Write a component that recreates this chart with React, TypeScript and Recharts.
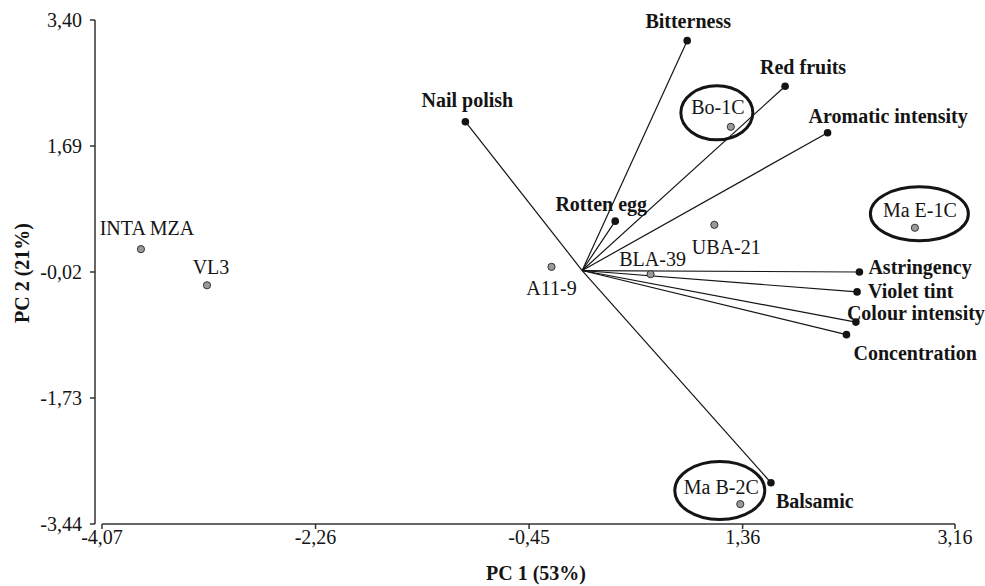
import { Label, ReferenceLine, Scatter, ScatterChart, XAxis, YAxis } from "recharts";

// PCA biplot: wine samples (grey) and sensory descriptors (vectors from origin).

const sampleNames = ["INTA MZA", "VL3", "A11-9", "BLA-39", "UBA-21", "Bo-1C", "Ma E-1C", "Ma B-2C"];
const samplePC1 = [-3.74, -3.18, -0.26, 0.58, 1.12, 1.26, 2.82, 1.34];
const samplePC2 = [0.29, -0.2, 0.05, -0.05, 0.62, 1.95, 0.58, -3.17];

const variableNames = [
  "Bitterness",
  "Red fruits",
  "Aromatic intensity",
  "Nail polish",
  "Rotten egg",
  "Astringency",
  "Violet tint",
  "Colour intensity",
  "Concentration",
  "Balsamic",
];
const variablePC1 = [0.89, 1.72, 2.08, -0.99, 0.28, 2.35, 2.33, 2.32, 2.24, 1.6];
const variablePC2 = [3.12, 2.5, 1.87, 2.02, 0.67, -0.02, -0.29, -0.7, -0.87, -2.88];

const circledSamples = ["Bo-1C", "Ma E-1C", "Ma B-2C"];

const pc1Ticks = [-4.07, -2.26, -0.45, 1.36, 3.16];
const pc2Ticks = [-3.44, -1.73, -0.02, 1.69, 3.4];

const samples = sampleNames.map((name, i) => ({ name, pc1: samplePC1[i], pc2: samplePC2[i] }));
const variables = variableNames.map((name, i) => ({ name, pc1: variablePC1[i], pc2: variablePC2[i] }));
const circled = samples.filter((s) => circledSamples.includes(s.name));

const FONT = '"Liberation Serif", "Times New Roman", serif';
const INK = "#141414";
const FS = 20;

type Place = { dx: number; dy: number; anchor?: "start" | "middle" | "end" };

// label placement relative to each mark, in pixels
const sampleLabelPlace: Record<string, Place> = {
  "INTA MZA": { dx: 6, dy: -21 },
  VL3: { dx: 4, dy: -18 },
  "A11-9": { dx: 0, dy: 21 },
  "BLA-39": { dx: 2, dy: -15 },
  "UBA-21": { dx: 12, dy: 22 },
  "Bo-1C": { dx: -13, dy: -20 },
  "Ma E-1C": { dx: 5, dy: -18 },
  "Ma B-2C": { dx: -19, dy: -17 },
};

const variableLabelPlace: Record<string, Place> = {
  Bitterness: { dx: 1, dy: -20 },
  "Red fruits": { dx: 18, dy: -19 },
  "Aromatic intensity": { dx: -19, dy: -17, anchor: "start" },
  "Nail polish": { dx: 2, dy: -22 },
  "Rotten egg": { dx: -14, dy: -17 },
  Astringency: { dx: 9, dy: -5, anchor: "start" },
  "Violet tint": { dx: 11, dy: -1, anchor: "start" },
  "Colour intensity": { dx: -9, dy: -9, anchor: "start" },
  Concentration: { dx: 7, dy: 18, anchor: "start" },
  Balsamic: { dx: 5, dy: 18, anchor: "start" },
};

// ellipse outline around circled samples: offset from the sample dot and radii
const ellipseStyle: Record<string, { dx: number; dy: number; rx: number; ry: number }> = {
  "Bo-1C": { dx: -14, dy: -14, rx: 36, ry: 27 },
  "Ma E-1C": { dx: 4.5, dy: -14, rx: 49, ry: 27 },
  "Ma B-2C": { dx: -20.5, dy: -13.5, rx: 45, ry: 29 },
};

const fmt = (v: number) => v.toFixed(2).replace(".", ",");

function SampleDot(props: any) {
  const { cx, cy, payload } = props;
  const p = sampleLabelPlace[payload.name] ?? { dx: 0, dy: -16 };
  return (
    <g>
      <circle cx={cx} cy={cy} r={3.6} fill="#9a9a9a" stroke="#333" strokeWidth={1} />
      <text
        x={cx + p.dx}
        y={cy + p.dy}
        textAnchor={p.anchor ?? "middle"}
        dominantBaseline="central"
        fontFamily={FONT}
        fontSize={FS}
        fill={INK}
      >
        {payload.name}
      </text>
    </g>
  );
}

function VariableDot(props: any) {
  const { cx, cy, payload } = props;
  const p = variableLabelPlace[payload.name] ?? { dx: 0, dy: -16 };
  return (
    <g>
      <circle cx={cx} cy={cy} r={3.8} fill={INK} />
      <text
        x={cx + p.dx}
        y={cy + p.dy}
        textAnchor={p.anchor ?? "middle"}
        dominantBaseline="central"
        fontFamily={FONT}
        fontSize={FS}
        fontWeight="bold"
        fill={INK}
      >
        {payload.name}
      </text>
    </g>
  );
}

function Ring(props: any) {
  const { cx, cy, payload } = props;
  const e = ellipseStyle[payload.name];
  if (!e) return <g />;
  return <ellipse cx={cx + e.dx} cy={cy + e.dy} rx={e.rx} ry={e.ry} fill="none" stroke={INK} strokeWidth={3} />;
}

const tickStyle = { fontSize: FS, fontFamily: FONT, fill: INK };

export default function App() {
  return (
    <div style={{ position: "absolute", left: 0, top: 0, background: "#fff" }}>
      <ScatterChart width={985} height={586} margin={{ top: 20, right: 30, bottom: 0, left: 0 }}>
        <XAxis
          type="number"
          dataKey="pc1"
          domain={[-4.07, 3.16]}
          ticks={pc1Ticks}
          padding={{ left: 7, right: 0 }}
          height={62}
          axisLine={false}
          tickLine={{ stroke: "#333", strokeWidth: 1.5 }}
          tickSize={5}
          tickMargin={1}
          tick={tickStyle}
          tickFormatter={fmt}
        >
          <Label
            content={(lp: any) => {
              const vb = lp.viewBox ?? { x: 95, y: 524, width: 860, height: 62 };
              return (
                <text
                  x={vb.x + vb.width / 2 + 11}
                  y={vb.y + 49}
                  textAnchor="middle"
                  dominantBaseline="central"
                  fontFamily={FONT}
                  fontSize={FS}
                  fontWeight="bold"
                  fill={INK}
                >
                  PC 1 (53%)
                </text>
              );
            }}
          />
        </XAxis>
        <YAxis
          type="number"
          dataKey="pc2"
          domain={[-3.44, 3.4]}
          ticks={pc2Ticks}
          width={95}
          axisLine={{ stroke: "#333", strokeWidth: 1.5 }}
          tickLine={{ stroke: "#333", strokeWidth: 1.5 }}
          tickSize={5}
          tickMargin={8}
          tick={tickStyle}
          tickFormatter={fmt}
        >
          <Label
            content={(lp: any) => {
              const vb = lp.viewBox ?? { x: 0, y: 20, width: 95, height: 504 };
              const x = vb.x + 22;
              const y = vb.y + vb.height / 2 + 1;
              return (
                <text
                  x={x}
                  y={y}
                  transform={`rotate(-90 ${x} ${y})`}
                  textAnchor="middle"
                  dominantBaseline="central"
                  fontFamily={FONT}
                  fontSize={FS}
                  fontWeight="bold"
                  fill={INK}
                >
                  PC 2 (21%)
                </text>
              );
            }}
          />
        </YAxis>

        <ReferenceLine
          segment={[
            { x: pc1Ticks[0], y: pc2Ticks[0] },
            { x: pc1Ticks[pc1Ticks.length - 1], y: pc2Ticks[0] },
          ]}
          stroke="#333"
          strokeWidth={1.5}
          ifOverflow="visible"
        />

        {variables.map((v) => (
          <ReferenceLine
            key={v.name}
            segment={[
              { x: 0, y: 0 },
              { x: v.pc1, y: v.pc2 },
            ]}
            stroke={INK}
            strokeWidth={1.2}
            ifOverflow="visible"
          />
        ))}

        <Scatter data={circled} shape={Ring} isAnimationActive={false} />
        <Scatter data={variables} shape={VariableDot} isAnimationActive={false} />
        <Scatter data={samples} shape={SampleDot} isAnimationActive={false} />
      </ScatterChart>
    </div>
  );
}
